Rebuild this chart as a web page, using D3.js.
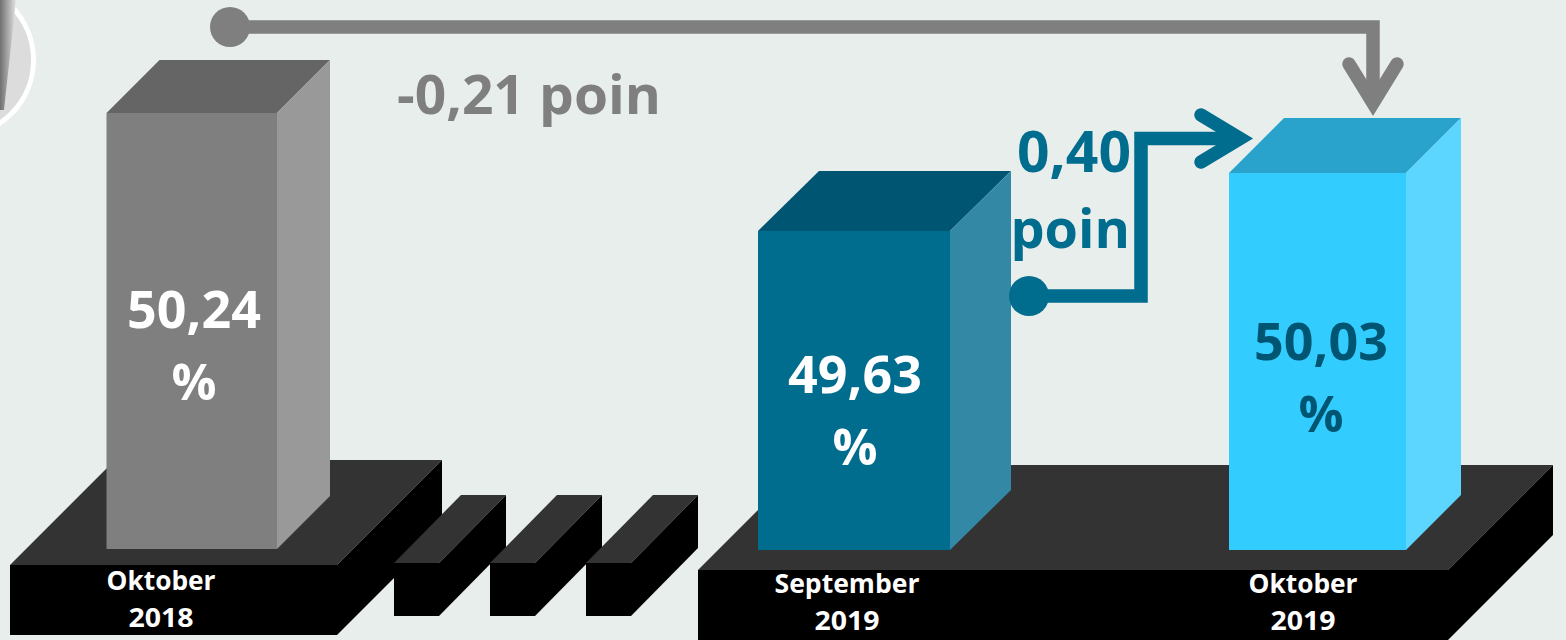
<!DOCTYPE html>
<html lang="id">

<head>
    <meta charset="UTF-8">
    <title>Oktober 2019</title>
    <script src="https://d3js.org/d3.v7.min.js"></script>
    <style>
        html, body { margin: 0; padding: 0; background: #e8eeec; overflow: hidden; }
        text { font-family: "Open Sans", sans-serif; font-weight: 700; }
    </style>
</head>

<body>
    <div id="chart"></div>
</body>
<script>
    // data
    var months = ["Oktober", "September", "Oktober"];
    var years = ["2018", "2019", "2019"];
    var values = [50.24, 49.63, 50.03];
    var valueLabels = ["50,24", "49,63", "50,03"];
    var changeYoy = "-0,21 poin";
    var changeMtm = ["0,40", "poin"];

    var width = 1566, height = 640;

    var svg = d3.select("#chart").append("svg")
        .attr("width", width)
        .attr("height", height);

    svg.append("rect").attr("width", width).attr("height", height).attr("fill", "#e8eeec");

    // the infographic is not drawn to scale, so the scale has a knot at each value
    var y = d3.scaleLinear()
        .domain([49.63, 50.03, 50.24])
        .range([231, 173, 113]);

    var barBottom = [549, 550, 550];
    var x = d3.scaleOrdinal().domain([0, 1, 2]).range([106.5, 758, 1229]);
    var barW = d3.scaleOrdinal().domain([0, 1, 2]).range([170.5, 192, 177]);
    var depthX = d3.scaleOrdinal().domain([0, 1, 2]).range([53, 61, 55]);
    var depthY = d3.scaleOrdinal().domain([0, 1, 2]).range([53, 60, 55]);

    var barColors = [
        {front: "#7f7f7f", top: "#656565", side: "#999999", text: "#ffffff"},
        {front: "#006c8e", top: "#005672", side: "#3389a5", text: "#ffffff"},
        {front: "#33ccff", top: "#29a3cc", side: "#5cd6ff", text: "#005672"}
    ];

    // extruded box: front face + top + right side
    function box(l, t, w, h, dx, dy, c) {
        var g = svg.append("g");
        g.append("path").attr("fill", c.top)
            .attr("d", d3.line()([[l, t], [l + dx, t - dy], [l + w + dx, t - dy], [l + w, t]]));
        g.append("path").attr("fill", c.side)
            .attr("d", d3.line()([[l + w, t], [l + w + dx, t - dy], [l + w + dx, t + h - dy], [l + w, t + h]]));
        g.append("rect").attr("fill", c.front)
            .attr("x", l).attr("y", t).attr("width", w).attr("height", h);
    }

    // picture fragment in the top left corner
    var defs = svg.append("defs");
    var grad = defs.append("linearGradient").attr("id", "sliver")
        .attr("x1", "0").attr("y1", "0").attr("x2", "1").attr("y2", "0");
    grad.append("stop").attr("offset", "0%").attr("stop-color", "#707070");
    grad.append("stop").attr("offset", "50%").attr("stop-color", "#a8a8a8");
    grad.append("stop").attr("offset", "100%").attr("stop-color", "#e2e2e2");
    svg.append("circle")
        .attr("cx", -42.5).attr("cy", 60).attr("r", 76)
        .attr("fill", "#dcdcdc").attr("stroke", "#ffffff").attr("stroke-width", 5);
    svg.append("path").attr("fill", "url(#sliver)")
        .attr("d", d3.line()([[0, 0], [16, 0], [4, 110], [0, 110]]));

    // platforms
    var base = {front: "#000000", top: "#333333", side: "#000000"};
    box(10, 565, 327, 70, 105, 105, base);
    [394, 490, 586].forEach(function(l) {
        box(l, 563, 45, 53, 67, 68, base);
    });
    box(698, 570, 750, 70, 105, 105, base);

    // bars
    values.forEach(function(v, i) {
        box(x(i), y(v), barW(i), barBottom[i] - y(v), depthX(i), depthY(i), barColors[i]);
    });

    // value labels
    var labelX = [194, 855, 1321];
    var labelY = [328, 393, 360];
    valueLabels.forEach(function(d, i) {
        var c = barColors[i].text;
        svg.append("text").attr("x", labelX[i]).attr("y", labelY[i]).attr("text-anchor", "middle")
            .attr("font-size", 52).attr("fill", c).text(d);
        svg.append("text").attr("x", labelX[i]).attr("y", labelY[i] + 72).attr("text-anchor", "middle")
            .attr("font-size", 50).attr("fill", c).text("%");
    });

    // month / year labels on the platforms
    var monthX = [161, 847, 1303];
    var monthY = [590, 593, 593];
    var yearY = [627, 630, 630];
    var monthLen = [109, 145, 109];
    months.forEach(function(m, i) {
        svg.append("text").attr("x", monthX[i]).attr("y", monthY[i]).attr("text-anchor", "middle")
            .attr("font-size", 27).attr("fill", "#ffffff")
            .attr("textLength", monthLen[i]).attr("lengthAdjust", "spacingAndGlyphs").text(m);
        svg.append("text").attr("x", monthX[i]).attr("y", yearY[i]).attr("text-anchor", "middle")
            .attr("font-size", 27).attr("fill", "#ffffff")
            .attr("textLength", 65).attr("lengthAdjust", "spacingAndGlyphs").text(years[i]);
    });

    // connector arrows
    function connector(points, head, color) {
        svg.append("circle").attr("cx", points[0][0]).attr("cy", points[0][1]).attr("r", 20).attr("fill", color);
        svg.append("path").attr("fill", "none").attr("stroke", color).attr("stroke-width", 13.5)
            .attr("stroke-linejoin", "miter")
            .attr("d", d3.line()(points));
        svg.append("path").attr("fill", "none").attr("stroke", color).attr("stroke-width", 13.5)
            .attr("stroke-linejoin", "miter").attr("stroke-miterlimit", 10).attr("stroke-linecap", "round")
            .attr("d", d3.line()(head));
    }

    connector([[230, 27], [1373, 27], [1373, 100]],
        [[1349, 64], [1373, 103], [1397, 64]], "#7f7f7f");
    connector([[1029, 296], [1141, 296], [1141, 138.5], [1236, 138.5]],
        [[1201, 115], [1240, 138.5], [1201, 162]], "#006c8e");

    // change labels
    svg.append("text").attr("x", 397).attr("y", 114)
        .attr("font-size", 54).attr("fill", "#7f7f7f")
        .attr("textLength", 264).attr("lengthAdjust", "spacingAndGlyphs").text(changeYoy);
    svg.append("text").attr("x", 1131).attr("y", 172).attr("text-anchor", "end")
        .attr("font-size", 57).attr("fill", "#006c8e").text(changeMtm[0]);
    svg.append("text").attr("x", 1130).attr("y", 248).attr("text-anchor", "end")
        .attr("font-size", 54).attr("fill", "#006c8e").text(changeMtm[1]);

</script>

</html>
